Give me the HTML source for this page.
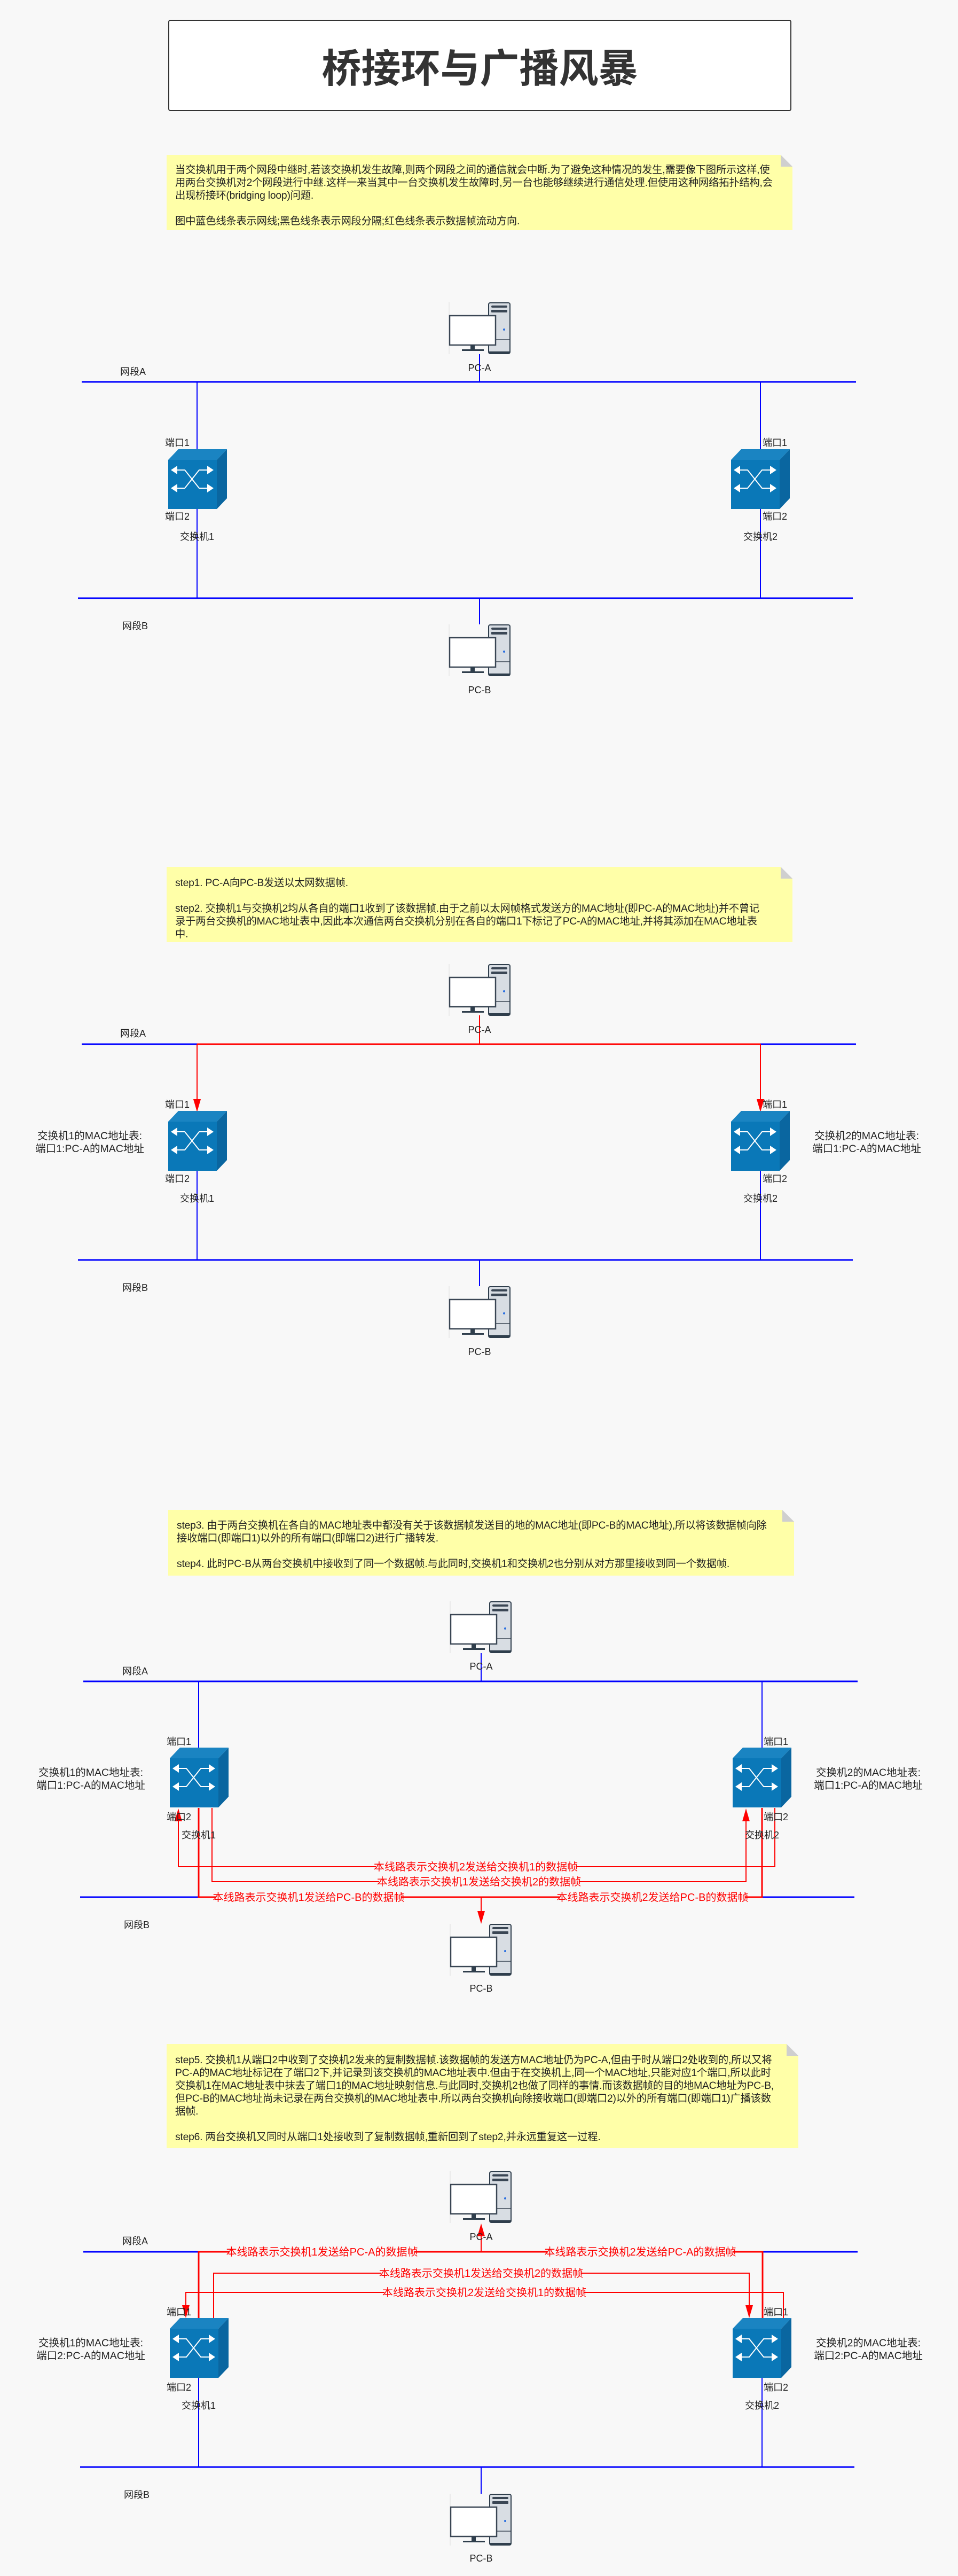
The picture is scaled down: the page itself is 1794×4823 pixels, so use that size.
<!DOCTYPE html>
<html><head><meta charset="utf-8"><style>
body{margin:0;background:#f8f8f8;}
#w{position:relative;width:1794px;height:4823px;overflow:hidden;background:#f8f8f8;font-family:"Liberation Sans","Noto Sans CJK SC",sans-serif;}
.title{position:absolute;left:315px;top:37px;width:1163px;height:167px;border:2px solid #333;border-radius:4px;background:#fff;text-align:center;line-height:167px;font-size:74px;font-weight:bold;color:#333;font-family:"Noto Sans CJK SC",sans-serif;}
.note{position:absolute;background:#ffffa8;color:#222;font-size:19.3px;line-height:24px;white-space:nowrap;box-sizing:border-box;padding-left:16px;letter-spacing:-0.2px;}
.note:after{content:"";position:absolute;right:0;top:0;border-style:solid;border-width:0 22px 22px 0;border-color:transparent #f8f8f8 #cfcfcf transparent;}
svg{position:absolute;left:0;top:0;}
</style></head><body><div id="w">
<div class="title">桥接环与广播风暴</div>
<div class="note" style="left:312px;top:290px;width:1172px;height:141px;padding-top:17px">当交换机用于两个网段中继时,若该交换机发生故障,则两个网段之间的通信就会中断.为了避免这种情况的发生,需要像下图所示这样,使<br>用两台交换机对2个网段进行中继.这样一来当其中一台交换机发生故障时,另一台也能够继续进行通信处理.但使用这种网络拓扑结构,会<br>出现桥接环(bridging loop)问题.<br><br>图中蓝色线条表示网线;黑色线条表示网段分隔;红色线条表示数据帧流动方向.</div>
<div class="note" style="left:312px;top:1623px;width:1172px;height:141px;padding-top:19px">step1. PC-A向PC-B发送以太网数据帧.<br><br>step2. 交换机1与交换机2均从各自的端口1收到了该数据帧.由于之前以太网帧格式发送方的MAC地址(即PC-A的MAC地址)并不曾记<br>录于两台交换机的MAC地址表中,因此本次通信两台交换机分别在各自的端口1下标记了PC-A的MAC地址,并将其添加在MAC地址表<br>中.</div>
<div class="note" style="left:315px;top:2827px;width:1172px;height:123px;padding-top:18px">step3. 由于两台交换机在各自的MAC地址表中都没有关于该数据帧发送目的地的MAC地址(即PC-B的MAC地址),所以将该数据帧向除<br>接收端口(即端口1)以外的所有端口(即端口2)进行广播转发.<br><br>step4. 此时PC-B从两台交换机中接收到了同一个数据帧.与此同时,交换机1和交换机2也分别从对方那里接收到同一个数据帧.</div>
<div class="note" style="left:312px;top:3827px;width:1183px;height:195px;padding-top:19px">step5. 交换机1从端口2中收到了交换机2发来的复制数据帧.该数据帧的发送方MAC地址仍为PC-A,但由于时从端口2处收到的,所以又将<br>PC-A的MAC地址标记在了端口2下,并记录到该交换机的MAC地址表中.但由于在交换机上,同一个MAC地址,只能对应1个端口,所以此时<br>交换机1在MAC地址表中抹去了端口1的MAC地址映射信息.与此同时,交换机2也做了同样的事情.而该数据帧的目的地MAC地址为PC-B,<br>但PC-B的MAC地址尚未记录在两台交换机的MAC地址表中.所以两台交换机向除接收端口(即端口2)以外的所有端口(即端口1)广播该数<br>据帧.<br><br>step6. 两台交换机又同时从端口1处接收到了复制数据帧,重新回到了step2,并永远重复这一过程.</div>

<svg width="1794" height="4823" viewBox="0 0 1794 4823" font-family="Liberation Sans, Noto Sans CJK SC, sans-serif">
<defs>
<g id="sw">
<polygon points="0,20 19,0 110,0 91,20" fill="#1a84c2"/>
<polygon points="91,20 110,0 110,92 91,112" fill="#0a66a0"/>
<rect x="0" y="20" width="91" height="92" fill="#0a78b8"/>
<g stroke="#fff" stroke-width="2" fill="none"><polyline points="12,39 31,39 58,73 73,73"/><polyline points="12,73 31,73 58,39 73,39"/></g>
<g fill="#fff"><polygon points="5,39 17,31 17,47"/><polygon points="5,73 17,65 17,81"/><polygon points="85,39 73,31 73,47"/><polygon points="85,73 73,65 73,81"/></g>
</g>
<g id="pc">
<line x1="0" y1="0" x2="0" y2="97" stroke="#ddd"/>
<rect x="74" y="1" width="40" height="95" rx="3" fill="#d8dde3" stroke="#2f3e4c" stroke-width="2"/>
<rect x="79" y="6" width="30" height="4" rx="2" fill="#3a4654"/>
<rect x="79" y="14" width="30" height="5" rx="1" fill="#3a4654"/>
<line x1="75" y1="70" x2="113" y2="70" stroke="#3a4654" stroke-width="1.5"/>
<rect x="74" y="92" width="40" height="4" fill="#2f3e4c"/>
<circle cx="103" cy="51" r="2" fill="#2a6fe0"/>
<rect x="1" y="25" width="86" height="55" fill="#fff" stroke="#3a4654" stroke-width="2.5"/>
<rect x="40" y="80" width="8" height="9" fill="#2f3e4c"/>
<rect x="24" y="88" width="41" height="3" fill="#2f3e4c"/>
</g>
</defs>

<g font-size="18" fill="#222">
<!-- Section 1 -->
<g stroke="#0000ff" stroke-width="2">
<line x1="153" y1="715" x2="1603" y2="715" stroke-width="3"/>
<line x1="146" y1="1120" x2="1597" y2="1120" stroke-width="3"/>
<line x1="898" y1="663" x2="898" y2="715"/><line x1="898" y1="1120" x2="898" y2="1169"/>
<line x1="369" y1="715" x2="369" y2="1120"/><line x1="1424" y1="715" x2="1424" y2="1120"/>
</g>
<use href="#pc" x="841" y="566"/><use href="#pc" x="841" y="1169"/>
<use href="#sw" x="315" y="841"/><use href="#sw" x="1369" y="841"/>
<text x="898" y="695" text-anchor="middle">PC-A</text><text x="898" y="1298" text-anchor="middle">PC-B</text>
<text x="225" y="702">网段A</text><text x="229" y="1178">网段B</text>
<text x="309" y="835">端口1</text><text x="309" y="973">端口2</text><text x="369" y="1011" text-anchor="middle">交换机1</text>
<text x="1428" y="835">端口1</text><text x="1428" y="973">端口2</text><text x="1424" y="1011" text-anchor="middle">交换机2</text>

<!-- Section 2 -->
<g stroke="#0000ff" stroke-width="2">
<line x1="153" y1="1955" x2="1603" y2="1955" stroke-width="3"/>
<line x1="146" y1="2359" x2="1597" y2="2359" stroke-width="3"/>
<line x1="898" y1="2359" x2="898" y2="2408"/>
<line x1="369" y1="2192" x2="369" y2="2359"/><line x1="1424" y1="2192" x2="1424" y2="2359"/>
</g>
<g stroke="#ff0000" stroke-width="2" fill="none">
<line x1="369" y1="1955" x2="1424" y2="1955" stroke-width="3"/>
<line x1="898" y1="1901" x2="898" y2="1955"/>
<line x1="369" y1="1955" x2="369" y2="2060"/><line x1="1424" y1="1955" x2="1424" y2="2060"/>
</g>
<g fill="#ff0000"><polygon points="369,2082 362,2058 376,2058"/><polygon points="1424,2082 1417,2058 1431,2058"/></g>
<use href="#pc" x="841" y="1805"/><use href="#pc" x="841" y="2408"/>
<use href="#sw" x="315" y="2080"/><use href="#sw" x="1369" y="2080"/>
<text x="898" y="1934" text-anchor="middle">PC-A</text><text x="898" y="2537" text-anchor="middle">PC-B</text>
<text x="225" y="1941">网段A</text><text x="229" y="2417">网段B</text>
<text x="309" y="2074">端口1</text><text x="309" y="2213">端口2</text><text x="369" y="2250" text-anchor="middle">交换机1</text>
<text x="1428" y="2074">端口1</text><text x="1428" y="2213">端口2</text><text x="1424" y="2250" text-anchor="middle">交换机2</text>
<g font-size="19.5">
<text x="168" y="2133" text-anchor="middle">交换机1的MAC地址表:</text><text x="168" y="2157" text-anchor="middle">端口1:PC-A的MAC地址</text>
<text x="1623" y="2133" text-anchor="middle">交换机2的MAC地址表:</text><text x="1623" y="2157" text-anchor="middle">端口1:PC-A的MAC地址</text>
</g>

<!-- Section 3 -->
<g stroke="#0000ff" stroke-width="2">
<line x1="156" y1="3148" x2="1606" y2="3148" stroke-width="3"/>
<line x1="150" y1="3552" x2="1600" y2="3552" stroke-width="3"/>
<line x1="901" y1="3095" x2="901" y2="3148"/>
<line x1="372" y1="3148" x2="372" y2="3272"/><line x1="1427" y1="3148" x2="1427" y2="3272"/>
</g>
<g stroke="#ff0000" stroke-width="2" fill="none">
<polyline points="1451,3385 1451,3495 334,3495 334,3405"/>
<polyline points="397,3385 397,3523 1397,3523 1397,3405"/>
<polyline points="372,3385 372,3552 1427,3552 1427,3385" stroke-width="3"/>
<line x1="901" y1="3552" x2="901" y2="3580"/>
</g>
<g fill="#ff0000"><polygon points="334,3386 327,3410 341,3410"/><polygon points="1397,3386 1390,3410 1404,3410"/><polygon points="901,3602 894,3578 908,3578"/></g>
<g font-size="20" fill="#ff0000" text-anchor="middle">
<rect x="704" y="3484" width="374" height="22" fill="#f8f8f8"/><text x="891" y="3502">本线路表示交换机2发送给交换机1的数据帧</text>
<rect x="710" y="3512" width="374" height="22" fill="#f8f8f8"/><text x="897" y="3530">本线路表示交换机1发送给交换机2的数据帧</text>
<rect x="404" y="3541" width="348" height="22" fill="#f8f8f8"/><text x="578" y="3559">本线路表示交换机1发送给PC-B的数据帧</text>
<rect x="1048" y="3541" width="348" height="22" fill="#f8f8f8"/><text x="1222" y="3559">本线路表示交换机2发送给PC-B的数据帧</text>
</g>
<use href="#pc" x="843" y="2998"/><use href="#pc" x="843" y="3602"/>
<use href="#sw" x="318" y="3272"/><use href="#sw" x="1372" y="3272"/>
<text x="901" y="3126" text-anchor="middle">PC-A</text><text x="901" y="3729" text-anchor="middle">PC-B</text>
<text x="229" y="3135">网段A</text><text x="232" y="3610">网段B</text>
<text x="312" y="3267">端口1</text><text x="312" y="3408">端口2</text><text x="372" y="3442" text-anchor="middle">交换机1</text>
<text x="1430" y="3267">端口1</text><text x="1430" y="3408">端口2</text><text x="1427" y="3442" text-anchor="middle">交换机2</text>
<g font-size="19.5">
<text x="170" y="3325" text-anchor="middle">交换机1的MAC地址表:</text><text x="170" y="3349" text-anchor="middle">端口1:PC-A的MAC地址</text>
<text x="1626" y="3325" text-anchor="middle">交换机2的MAC地址表:</text><text x="1626" y="3349" text-anchor="middle">端口1:PC-A的MAC地址</text>
</g>

<!-- Section 4 -->
<g stroke="#0000ff" stroke-width="2">
<line x1="156" y1="4216" x2="1606" y2="4216" stroke-width="3"/>
<line x1="150" y1="4619" x2="1600" y2="4619" stroke-width="3"/>
<line x1="901" y1="4619" x2="901" y2="4669"/>
<line x1="372" y1="4451" x2="372" y2="4619"/><line x1="1427" y1="4451" x2="1427" y2="4619"/>
</g>
<g stroke="#ff0000" stroke-width="2" fill="none">
<polyline points="372,4340 372,4216 1428,4216 1428,4340" stroke-width="3"/>
<line x1="901" y1="4216" x2="901" y2="4185"/>
<polyline points="400,4340 400,4256 1403,4256 1403,4318"/>
<polyline points="1467,4340 1467,4292 348,4292 348,4318"/>
</g>
<g fill="#ff0000"><polygon points="901,4163 894,4187 908,4187"/><polygon points="1403,4340 1396,4316 1410,4316"/><polygon points="348,4340 341,4316 355,4316"/></g>
<g font-size="20" fill="#ff0000" text-anchor="middle">
<rect x="429" y="4205" width="348" height="22" fill="#f8f8f8"/><text x="603" y="4223">本线路表示交换机1发送给PC-A的数据帧</text>
<rect x="1025" y="4205" width="348" height="22" fill="#f8f8f8"/><text x="1199" y="4223">本线路表示交换机2发送给PC-A的数据帧</text>
<rect x="714" y="4245" width="374" height="22" fill="#f8f8f8"/><text x="901" y="4263">本线路表示交换机1发送给交换机2的数据帧</text>
<rect x="720" y="4281" width="374" height="22" fill="#f8f8f8"/><text x="907" y="4299">本线路表示交换机2发送给交换机1的数据帧</text>
</g>
<use href="#pc" x="843" y="4065"/><use href="#pc" x="843" y="4669"/>
<use href="#sw" x="318" y="4340"/><use href="#sw" x="1372" y="4340"/>
<text x="901" y="4194" text-anchor="middle">PC-A</text><text x="901" y="4796" text-anchor="middle">PC-B</text>
<text x="229" y="4202">网段A</text><text x="232" y="4677">网段B</text>
<text x="312" y="4335">端口1</text><text x="312" y="4476">端口2</text><text x="372" y="4510" text-anchor="middle">交换机1</text>
<text x="1430" y="4335">端口1</text><text x="1430" y="4476">端口2</text><text x="1427" y="4510" text-anchor="middle">交换机2</text>
<g font-size="19.5">
<text x="170" y="4393" text-anchor="middle">交换机1的MAC地址表:</text><text x="170" y="4417" text-anchor="middle">端口2:PC-A的MAC地址</text>
<text x="1626" y="4393" text-anchor="middle">交换机2的MAC地址表:</text><text x="1626" y="4417" text-anchor="middle">端口2:PC-A的MAC地址</text>
</g>
</g>
</svg>
</div></body></html>
